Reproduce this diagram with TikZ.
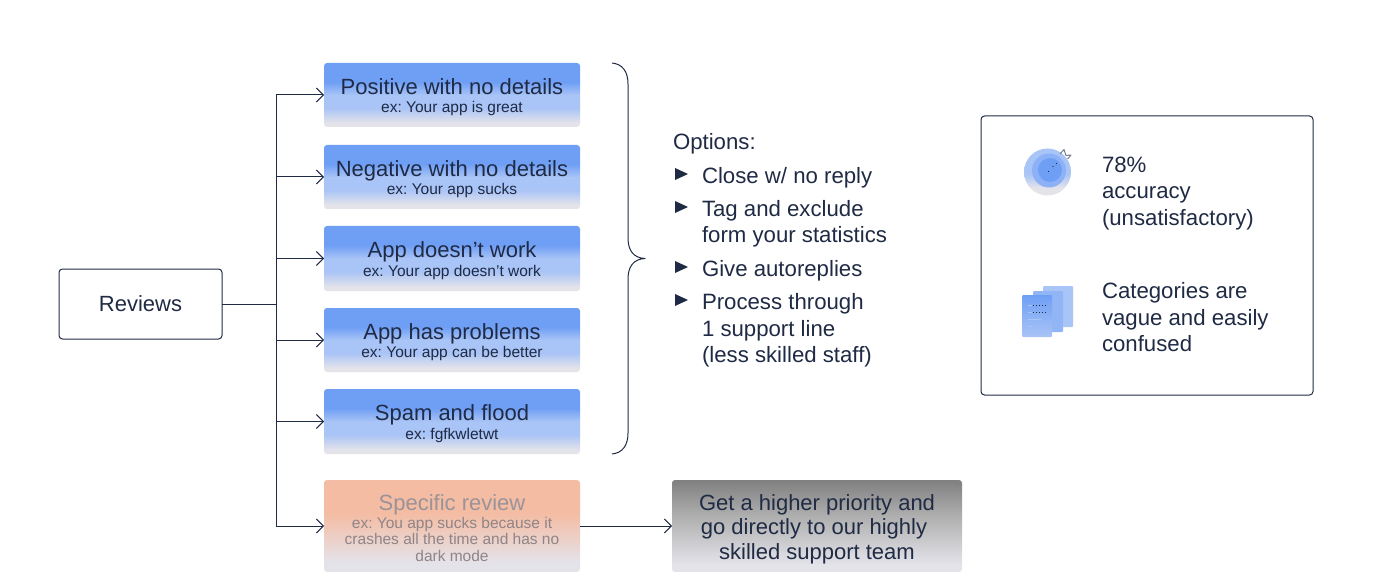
\documentclass[tikz,border=0pt]{standalone}
\usepackage{fontspec}
\setmainfont{Liberation Sans}
\usetikzlibrary{arrows.meta}
\definecolor{ink}{HTML}{1F2A44}
\definecolor{bluetop}{HTML}{6F9FF5}
\definecolor{bluemid}{HTML}{A9C4F6}
\definecolor{fade}{HTML}{E4E3EA}
\definecolor{peach}{HTML}{F4BCA3}
\definecolor{ghost}{HTML}{9A9399}
\definecolor{ghostb}{HTML}{8F8488}
\pgfdeclareverticalshading{blueshade}{100bp}{color(0bp)=(fade); color(28bp)=(fade); color(40bp)=(bluemid); color(50bp)=(bluemid); color(60bp)=(bluetop); color(100bp)=(bluetop)}
\pgfdeclareverticalshading{peachshade}{100bp}{color(0bp)=(fade); color(30bp)=(fade); color(57bp)=(peach); color(100bp)=(peach)}
\pgfdeclareverticalshading{grayshade}{100bp}{color(0bp)=(fade); color(29bp)=(fade); color(55bp)=(black!31); color(75bp)=(black!50); color(100bp)=(black!50)}
\pgfdeclareverticalshading{discshade}{100bp}{color(0bp)=(fade); color(33bp)=(fade); color(48bp)=(bluemid); color(100bp)=(bluemid)}
\newcommand{\titlesize}{\fontsize{22}{24}\selectfont}
\newcommand{\pushdown}[1]{\rule{0pt}{#1pt}}
\tikzset{
  x=1pt, y=-1pt,
  every node/.style={inner sep=0pt, outer sep=0pt},
  link/.style={draw=ink, line width=1pt},
  arrowlink/.style={link, -{Straight Barb[length=7pt,width=14pt,line width=0.9pt]}},
  catbox/.style={rounded corners=3pt, minimum width=256pt, minimum height=#1, align=center, text=ink,
    font=\frenchspacing\fontsize{15.5}{18.5}\selectfont},
  bluebox/.style={catbox=64pt, shade, shading=blueshade},
  peachbox/.style={catbox=92pt, shade, shading=peachshade, text=ghostb, font=\frenchspacing\fontsize{15.5}{16.5}\selectfont},
  graybox/.style={rounded corners=3pt, minimum width=290pt, minimum height=92pt, align=center, text=ink,
    shade, shading=grayshade, font=\fontsize{22}{24.5}\selectfont},
  outlinebox/.style={draw=ink, line width=1pt, rounded corners=3.5pt},
  plaintext/.style={anchor=base west, text=ink, font=\fontsize{22.2}{24}\selectfont},
  bullet/.style={fill=ink},
  page/.style={rounded corners=1pt},
}
\begin{document}
\begin{tikzpicture}
\useasboundingbox (0,0) rectangle (1400,572);

\node[outlinebox, minimum width=163pt, minimum height=70pt, font=\fontsize{22}{24}\selectfont, text=ink] (reviews) at (140.5,304) {Reviews};
\coordinate (trunk) at (276,304);

\node[bluebox] (pos) at (452,95) {\pushdown{20}{\titlesize Positive with no details}\\ex: Your app is great};
\node[bluebox] (neg) at (452,177) {\pushdown{20}{\titlesize Negative with no details}\\ex: Your app sucks};
\node[bluebox, minimum height=65pt] (work) at (452,258.5) {\pushdown{20}{\titlesize App doesn’t work}\\ex: Your app doesn’t work};
\node[bluebox] (prob) at (452,340) {\pushdown{20}{\titlesize App has problems}\\ex: Your app can be better};
\node[bluebox, minimum height=65pt] (spam) at (452,421.5) {\pushdown{20}{\titlesize Spam and flood}\\ex: fgfkwletwt};
\node[peachbox] (spec) at (452,526) {\pushdown{20}{\titlesize\color{ghost} Specific review}\\[1pt]ex: You app sucks because it\\crashes all the time and has no\\dark mode};
\node[graybox] (prio) at (817,526) {\pushdown{22}Get a higher priority and\\go directly to our highly\rule{6pt}{0pt}\\skilled support team};

\draw[link] (reviews) -- (trunk);
\foreach \target in {pos,neg,work,prob,spam,spec}
  \draw[arrowlink] (trunk) |- (\target);
\draw[arrowlink] (spec) -- (prio);

% brace
\draw[draw=ink, line width=1pt, line join=round] (612,63) .. controls (622,64) and (628,71) .. (628,84)
  -- (628,238) .. controls (628,251) and (634,258) .. (645,258.5)
  .. controls (634,259) and (628,266) .. (628,279)
  -- (628,433) .. controls (628,446) and (622,453) .. (612,454);

% options
\node[plaintext] (opt) at (673,150) {Options:};
\node[plaintext] (o1) at (702,184) {Close w/ no reply};
\node[plaintext] (o2) at (702,217) {Tag and exclude};
\node[plaintext] (o2b) at (702,243) {form your statistics};
\node[plaintext] (o3) at (702,276) {Give autoreplies};
\node[plaintext] (o4) at (702,309.5) {Process through};
\node[plaintext] (o4b) at (702,336) {1 support line};
\node[plaintext] (o4c) at (702,362.5) {(less skilled staff)};
\foreach \yy in {174,207,267,300}
  \fill[bullet] (675,\yy-6) -- (688,\yy) -- (675,\yy+6) -- cycle;

% panel
\draw[outlinebox] (981,116) rectangle (1313,395);
\node[plaintext] (acc1) at (1102,172.5) {78\%};
\node[plaintext] (acc2) at (1102,199) {accuracy};
\node[plaintext] (acc3) at (1102,225.5) {(unsatisfactory)};
\node[plaintext] (cat1) at (1102,298.5) {Categories are};
\node[plaintext] (cat2) at (1102,325) {vague and easily};
\node[plaintext] (cat3) at (1102,351.5) {confused};

% target icon
\shade[shading=discshade] (1047.5,172) circle (23.5);
\fill[bluemid!50!bluetop] (1049,170.5) circle (17);
\fill[bluetop] (1050,170) circle (12);
\fill[ink] (1048.5,171.5) circle (0.6) (1053,166.5) circle (0.6) (1056.5,163.5) circle (0.6);
\draw[draw=ink!60, line width=1pt, line join=round] (1060,154) -- (1064,149.5) -- (1066,155.5) -- (1071,155) -- (1067.5,159);

% documents icon
\fill[page, bluemid] (1043,286) rectangle (1073,327);
\fill[page, bluemid!60!bluetop] (1033,291) rectangle (1063,332);
\shade[page, top color=bluetop, bottom color=bluemid] (1022,295) rectangle (1052,337);
\draw[ink, line width=0.8pt, dash pattern=on 1pt off 2pt] (1033,305.5) -- (1047,305.5) (1033,312.5) -- (1047,312.5);
\draw[bluemid, line width=1pt] (1028,305.5) -- (1032,305.5) (1028,312.5) -- (1032,312.5) (1028,319) -- (1041,319) (1028,326) -- (1033,326);
\end{tikzpicture}
\end{document}
